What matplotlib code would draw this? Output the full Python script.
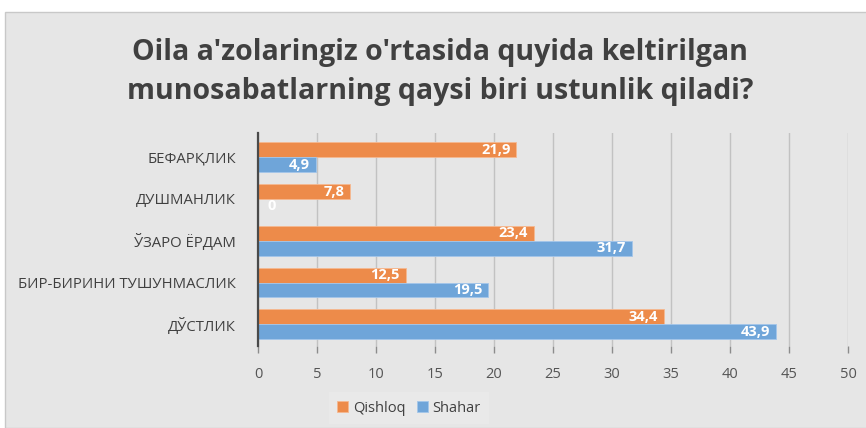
import numpy as np
import matplotlib.pyplot as plt
from matplotlib.patches import Rectangle

categories = ["ДЎСТЛИК", "БИР-БИРИНИ ТУШУНМАСЛИК", "ЎЗАРО ЁРДАМ", "ДУШМАНЛИК", "БЕФАРҚЛИК"]
qishloq = [34.4, 12.5, 23.4, 7.8, 21.9]
shahar = [43.9, 19.5, 31.7, 0, 4.9]
series_names = ["Qishloq", "Shahar"]
title = "Oila a'zolaringiz o'rtasida quyida keltirilgan\nmunosabatlarning qaysi biri ustunlik qiladi?"

ORANGE = "#ed8b4a"
BLUE = "#6fa5d9"
BG = "#e6e6e6"

plt.rcParams['font.family'] = ['Open Sans', 'DejaVu Sans']

fig = plt.figure(figsize=(8.66, 4.28), dpi=100)
fig.patch.set_facecolor("white")
# grey chart area with thin border
fig.patches.append(Rectangle((5 / 866, 0), 1, 1 - 12 / 428, transform=fig.transFigure,
                             facecolor=BG, edgecolor="#c8c8c8", lw=1, zorder=-10))

ax = fig.add_axes([258 / 866, 1 - 346 / 428, 590 / 866, 213 / 428])
ax.set_facecolor(BG)

y = np.arange(len(categories))
h = 0.355
bq = ax.barh(y + h / 2, qishloq, height=h, color=ORANGE, edgecolor="#f5b891", lw=0.6,
             label=series_names[0], zorder=3)
bs = ax.barh(y - h / 2, shahar, height=h, color=BLUE, edgecolor="#a3c6ea", lw=0.6,
             label=series_names[1], zorder=3)

def fmt(v):
    return f"{v:g}".replace(".", ",")

for bars, vals in [(bq, qishloq), (bs, shahar)]:
    for b, v in zip(bars, vals):
        yc = b.get_y() + b.get_height() / 2
        if v == 0:
            ax.text(0.8, yc, fmt(v), color="white", fontweight="bold", fontsize=10.5,
                    va="center", ha="left", zorder=4)
        else:
            ax.text(v - 0.5, yc, fmt(v), color="white", fontweight="bold", fontsize=10.5,
                    va="center", ha="right", zorder=4)

ax.set_xlim(0, 50)
ax.set_ylim(-0.52, len(categories) - 0.42)
ax.set_xticks(np.arange(0, 51, 5))
ax.set_yticks(y)
ax.set_yticklabels(categories, fontsize=10.7, color="#404040")
ax.tick_params(axis="y", length=0, pad=16)
ax.tick_params(axis="x", length=5, width=1, color="#8c8c8c", pad=10, labelsize=10.5,
               labelcolor="#555555")
ax.grid(axis="x", color="#c2c2c2", lw=1, zorder=1)
for s in ["top", "right", "bottom"]:
    ax.spines[s].set_visible(False)
ax.spines["left"].set_color("#4a4a4a")
ax.spines["left"].set_linewidth(1.6)
ax.spines["left"].set_zorder(5)

fig.text(0.508, 1 - 72 / 428, title, ha="center", va="center", fontsize=20.5,
         fontweight="bold", color="#404040", linespacing=1.45)

leg = fig.legend(loc="center", bbox_to_anchor=(409 / 866, 1 - 408 / 428), ncol=2,
                 frameon=True, fontsize=10.5, handlelength=0.75, handleheight=0.75,
                 columnspacing=0.8, handletextpad=0.3, borderpad=0.6)
leg.get_frame().set_facecolor("#ebebeb")
leg.get_frame().set_edgecolor("none")
leg.get_frame().set_boxstyle("square", pad=0)
for t in leg.get_texts():
    t.set_color("#404040")

fig.savefig("out.png", dpi=100, facecolor=fig.get_facecolor())
